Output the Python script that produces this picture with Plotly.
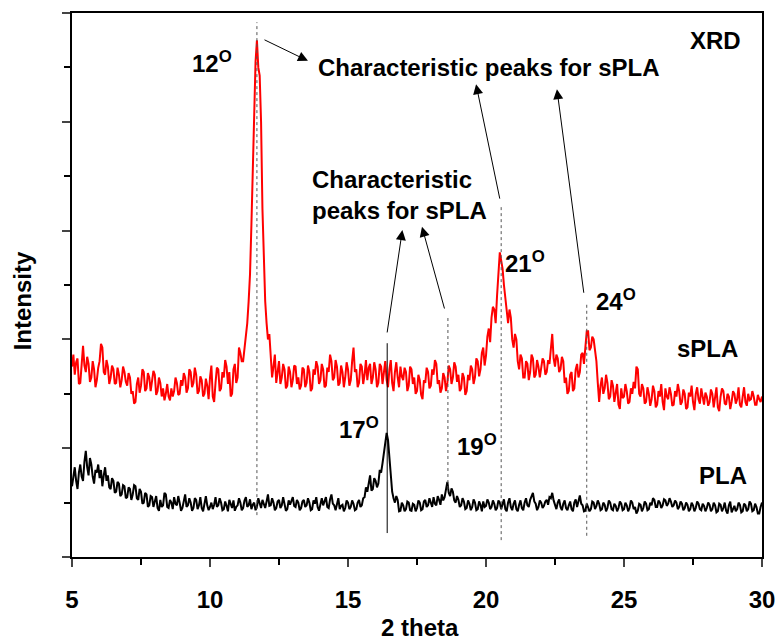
import plotly.graph_objects as go

# 2-theta grid (degrees), 0.05 deg step
two_theta = [round(5 + 0.05 * i, 2) for i in range(501)]

# sPLA intensity (arb. units), one row per degree
spla = [
    350, 372, 335, 358, 365, 318, 320, 362, 388, 352, 340, 368, 355, 322, 330, 360, 345, 312, 325, 348,
    360, 392, 385, 340, 335, 362, 350, 318, 330, 352, 345, 318, 320, 348, 335, 312, 325, 350, 340, 322,
    315, 338, 330, 300, 305, 282, 285, 318, 330, 302, 315, 345, 340, 305, 310, 338, 330, 305, 320, 342,
    335, 298, 305, 330, 320, 295, 310, 288, 300, 318, 295, 288, 310, 295, 305, 330, 320, 298, 300, 325,
    315, 338, 330, 302, 310, 345, 340, 312, 320, 348, 335, 300, 305, 332, 325, 295, 300, 328, 315, 290,
    330, 352, 295, 285, 320, 348, 345, 305, 310, 340, 330, 362, 350, 318, 340, 295, 300, 345, 355, 320,
    330, 385, 375, 360, 360, 385, 400, 430, 470, 520, 610, 700, 820, 910, 950, 900, 885, 800, 640, 540,
    470, 430, 400, 410, 375, 330, 350, 372, 320, 345, 360, 318, 330, 355, 345, 310, 315, 350, 340, 312,
    325, 352, 350, 318, 330, 308, 315, 348, 345, 312, 320, 352, 340, 305, 310, 345, 335, 360, 350, 318,
    325, 355, 345, 312, 315, 348, 340, 372, 360, 325, 330, 362, 350, 315, 320, 352, 340, 312, 330, 358,
    345, 315, 325, 360, 385, 340, 345, 312, 320, 355, 350, 318, 335, 362, 325, 348, 355, 318, 330, 358,
    345, 312, 320, 355, 350, 318, 335, 360, 325, 312, 345, 362, 320, 305, 340, 358, 330, 312, 350, 332,
    325, 348, 340, 305, 315, 350, 345, 318, 330, 300, 305, 335, 325, 298, 290, 325, 320, 348, 340, 310,
    315, 345, 335, 362, 355, 318, 325, 302, 310, 338, 330, 305, 320, 352, 345, 318, 330, 358, 350, 322,
    335, 305, 310, 338, 330, 298, 305, 335, 325, 352, 345, 318, 330, 365, 360, 332, 345, 375, 385, 352,
    370, 405, 420, 395, 440, 460, 455, 430, 480, 520, 560, 545, 530, 500, 480, 455, 430, 455, 440, 400,
    385, 410, 400, 360, 345, 372, 365, 330, 330, 360, 355, 325, 340, 372, 365, 330, 335, 362, 350, 330,
    345, 365, 360, 335, 340, 362, 355, 380, 410, 365, 350, 372, 365, 340, 345, 368, 360, 320, 330, 300,
    305, 335, 340, 305, 310, 345, 355, 330, 340, 372, 375, 355, 395, 415, 415, 380, 385, 405, 400, 375,
    360, 320, 285, 315, 330, 300, 310, 335, 320, 290, 295, 325, 315, 285, 300, 318, 280, 272, 310, 292,
    295, 318, 305, 282, 285, 310, 300, 322, 310, 350, 345, 300, 295, 318, 310, 282, 285, 312, 300, 278,
    290, 315, 305, 275, 280, 305, 295, 318, 285, 270, 310, 295, 290, 312, 300, 278, 280, 305, 295, 318,
    305, 280, 285, 308, 300, 272, 275, 302, 295, 315, 285, 270, 300, 312, 290, 282, 310, 295, 280, 302,
    295, 278, 285, 308, 300, 275, 290, 312, 275, 268, 295, 310, 305, 282, 280, 300, 295, 272, 285, 305,
    300, 282, 290, 312, 280, 275, 295, 312, 285, 278, 300, 288, 290, 305, 295, 280, 280, 298, 290, 285,
    295,
]

# PLA intensity, one row per degree
pla = [
    130, 148, 165, 140, 125, 155, 170, 148, 140, 175, 195, 165, 150, 182, 170, 148, 135, 160, 155, 170,
    145, 160, 130, 150, 165, 140, 150, 128, 125, 145, 140, 118, 120, 138, 135, 112, 115, 132, 130, 108,
    110, 128, 125, 105, 115, 132, 130, 108, 105, 125, 120, 98, 100, 118, 115, 92, 95, 112, 110, 92,
    100, 112, 90, 85, 105, 92, 95, 118, 115, 92, 90, 105, 100, 88, 110, 98, 95, 112, 100, 85,
    90, 105, 115, 92, 95, 108, 100, 85, 90, 108, 105, 88, 95, 110, 90, 84, 100, 112, 95, 86,
    92, 100, 88, 96, 110, 92, 95, 108, 100, 86, 88, 102, 94, 84, 105, 96, 90, 104, 85, 92,
    95, 108, 100, 86, 90, 104, 110, 92, 95, 106, 88, 96, 100, 86, 92, 108, 98, 90, 105, 96,
    90, 102, 115, 94, 95, 108, 100, 86, 90, 102, 105, 90, 95, 110, 100, 85, 88, 104, 96, 102,
    110, 94, 92, 105, 100, 86, 90, 102, 105, 92, 95, 108, 100, 86, 88, 104, 98, 110, 92, 85,
    100, 108, 95, 104, 110, 92, 90, 106, 115, 98, 95, 86, 100, 108, 88, 94, 96, 84, 90, 104,
    100, 88, 92, 104, 98, 86, 88, 100, 105, 92, 95, 108, 110, 128, 120, 135, 150, 122, 125, 145,
    140, 128, 135, 160, 155, 172, 190, 210, 228, 215, 180, 145, 120, 108, 100, 112, 105, 84, 85, 100,
    95, 84, 88, 102, 100, 86, 85, 98, 96, 84, 90, 104, 100, 86, 88, 102, 105, 92, 95, 108,
    100, 92, 110, 98, 95, 112, 105, 96, 115, 104, 110, 122, 138, 118, 112, 126, 120, 104, 100, 112,
    105, 92, 95, 108, 102, 88, 90, 104, 98, 86, 92, 106, 100, 86, 88, 102, 96, 84, 102, 92,
    94, 106, 100, 88, 92, 104, 98, 86, 90, 104, 100, 88, 95, 106, 88, 84, 100, 108, 92, 86,
    98, 104, 88, 84, 96, 104, 90, 86, 100, 108, 95, 92, 105, 110, 118, 102, 98, 86, 92, 104,
    100, 90, 94, 102, 105, 96, 110, 108, 118, 104, 96, 88, 100, 106, 92, 86, 98, 104, 90, 86,
    95, 102, 88, 84, 100, 106, 92, 104, 113, 98, 95, 84, 85, 98, 92, 84, 88, 102, 100, 88,
    94, 104, 98, 86, 88, 100, 96, 84, 90, 104, 100, 88, 86, 98, 94, 84, 90, 102, 98, 86,
    88, 100, 95, 84, 90, 104, 100, 88, 92, 80, 85, 98, 96, 84, 90, 102, 98, 86, 88, 100,
    95, 108, 105, 92, 92, 104, 100, 90, 95, 106, 104, 94, 98, 108, 102, 92, 95, 104, 100, 88,
    92, 102, 98, 86, 90, 100, 96, 84, 88, 100, 95, 84, 90, 102, 98, 88, 86, 98, 94, 84,
    90, 100, 96, 84, 88, 100, 95, 82, 84, 98, 96, 84, 90, 100, 85, 80, 95, 102, 82, 90,
    94, 84, 88, 100, 96, 82, 84, 98, 95, 84, 88, 102, 98, 84, 86, 98, 92, 80, 80, 92,
    100,
]

x_ticks = [5, 10, 15, 20, 25, 30]
x_minor = [7.5, 12.5, 17.5, 22.5, 27.5]
y_major = [0, 200, 400, 600, 800, 1000]

# peak marker lines: (x, y_bottom, y_top)
dotted_lines = [(11.7, 77, 983), (18.62, 125, 440), (20.55, 31, 647), (23.65, 39, 469)]
solid_lines = [(16.42, 44, 393)]

# arrows: (head_x, head_y, tail_x, tail_y)
arrows = [
    (13.55, 912, 11.92, 952),
    (19.64, 869, 20.51, 656),
    (22.57, 860, 23.55, 483),
    (16.97, 601, 16.41, 410),
    (17.68, 607, 18.51, 454),
]

# text labels: (text, x, y, xanchor)
labels = [
    ("XRD", 28.33, 950, "center"),
    ("12<sup>O</sup>", 10.09, 910, "center"),
    ("Characteristic peaks for sPLA", 20.1, 899, "center"),
    ("Characteristic<br>peaks for sPLA", 13.62, 665, "left"),
    ("21<sup>O</sup>", 21.41, 542, "center"),
    ("24<sup>O</sup>", 24.71, 472, "center"),
    ("sPLA", 28.04, 383, "center"),
    ("17<sup>O</sup>", 15.4, 237, "center"),
    ("19<sup>O</sup>", 19.67, 206, "center"),
    ("PLA", 28.6, 149, "center"),
]

FONT = "Liberation Sans, Arial, sans-serif"
FS = 24

fig = go.Figure()
fig.add_trace(go.Scatter(x=two_theta, y=spla, mode="lines",
                         line=dict(color="#ff0000", width=2), name="sPLA"))
fig.add_trace(go.Scatter(x=two_theta, y=pla, mode="lines",
                         line=dict(color="#000000", width=2), name="PLA"))

for xv, y0, y1 in dotted_lines:
    fig.add_shape(type="line", x0=xv, x1=xv, y0=y0, y1=y1, xref="x", yref="y",
                  line=dict(color="#555555", width=1, dash="dot"))
for xv, y0, y1 in solid_lines:
    fig.add_shape(type="line", x0=xv, x1=xv, y0=y0, y1=y1, xref="x", yref="y",
                  line=dict(color="#000000", width=1))

for hx, hy, tx, ty in arrows:
    fig.add_annotation(x=hx, y=hy, ax=tx, ay=ty, xref="x", yref="y", axref="x", ayref="y",
                       text="", showarrow=True, arrowhead=2, arrowsize=2,
                       arrowwidth=1, arrowcolor="#000000")

for txt, xv, yv, xa in labels:
    fig.add_annotation(x=xv, y=yv, xref="x", yref="y", text=txt, showarrow=False,
                       align="left", xanchor=xa,
                       font=dict(family=FONT, size=FS, color="black", weight="bold"))

fig.add_annotation(x=0.504, y=0, xref="paper", yref="paper", yshift=-70, text="2 theta",
                   showarrow=False, yanchor="middle",
                   font=dict(family=FONT, size=FS, color="black", weight="bold"))
fig.add_annotation(x=0, y=0.47, xref="paper", yref="paper", xshift=-50, text="Intensity",
                   showarrow=False, textangle=-90, xanchor="center",
                   font=dict(family=FONT, size=FS, color="black", weight="bold"))

fig.update_layout(
    width=779, height=640,
    margin=dict(l=72, r=17, t=13, b=83),
    plot_bgcolor="white", paper_bgcolor="white",
    showlegend=False,
    font=dict(family=FONT, size=FS, color="black", weight="bold"),
    xaxis=dict(range=[5, 30], tickvals=x_ticks, ticks="outside", ticklen=8, tickwidth=2,
               showline=True, linewidth=2, linecolor="black", mirror=True,
               showgrid=False, zeroline=False, ticklabelstandoff=12, automargin=False,
               tickfont=dict(family=FONT, size=FS, color="black", weight="bold"),
               minor=dict(tickvals=x_minor, ticks="outside", ticklen=6, tickwidth=2,
                          tickcolor="black", showgrid=False)),
    yaxis=dict(range=[0, 1000], tickvals=y_major, ticks="outside",
               ticklen=8, tickwidth=2, showticklabels=False, automargin=False,
               showline=True, linewidth=2, linecolor="black", mirror=True,
               showgrid=False, zeroline=False,
               minor=dict(dtick=100, ticks="outside", ticklen=6, tickwidth=2,
                          tickcolor="black", showgrid=False)),
)

fig.write_html("out.html")
